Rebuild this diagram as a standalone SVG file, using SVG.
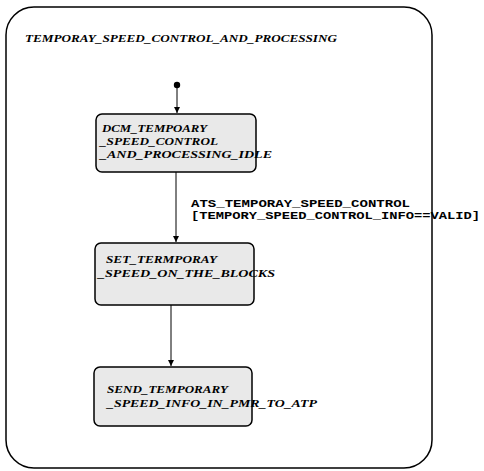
<svg xmlns="http://www.w3.org/2000/svg" width="484" height="471" viewBox="0 0 484 471">
<style>
.st{font-family:"Liberation Serif",serif;font-style:italic;font-weight:bold;font-size:11px;fill:#000}
.box{fill:#e9e9e9;stroke:#000;stroke-width:1.5}
.lbl{font-family:"Liberation Mono",monospace;font-weight:bold;font-size:10.5px;fill:#000}
.edge{stroke:#000;stroke-width:1;fill:none;marker-end:url(#ah)}
</style>
<defs>
<marker id="ah" markerWidth="8" markerHeight="8" refX="6" refY="3" orient="auto" markerUnits="userSpaceOnUse">
<path d="M0,0 L6,3 L0,6 Z" fill="#000"/>
</marker>
</defs>
<rect width="484" height="471" fill="#fff"/>
<g id="container">
<rect x="6" y="7" width="426" height="461" rx="28" ry="28" fill="none" stroke="#000" stroke-width="1.5"/>
<text class="st" x="25" y="42" textLength="312" lengthAdjust="spacingAndGlyphs">TEMPORAY_SPEED_CONTROL_AND_PROCESSING</text>
</g>
<g id="initial">
<circle cx="177" cy="85" r="3.2" fill="#000"/>
</g>
<g id="connectors">
<line class="edge" x1="177" y1="88" x2="177" y2="113"/>
<line class="edge" x1="176" y1="172" x2="176" y2="242"/>
<line class="edge" x1="171" y1="305" x2="171" y2="366"/>
<text class="lbl" x="191" y="207" textLength="219" lengthAdjust="spacingAndGlyphs">ATS_TEMPORAY_SPEED_CONTROL</text>
<text class="lbl" x="191" y="219" textLength="289" lengthAdjust="spacingAndGlyphs">[TEMPORY_SPEED_CONTROL_INFO==VALID]</text>
</g>
<g id="state1">
<rect class="box" x="96" y="114" width="160" height="58" rx="6" ry="6"/>
<text class="st" x="102" y="132" textLength="105" lengthAdjust="spacingAndGlyphs">DCM_TEMPOARY</text>
<text class="st" x="100" y="145" textLength="118" lengthAdjust="spacingAndGlyphs">_SPEED_CONTROL</text>
<text class="st" x="100" y="158" textLength="172" lengthAdjust="spacingAndGlyphs">_AND_PROCESSING_IDLE</text>
</g>
<g id="state2">
<rect class="box" x="95" y="243" width="159" height="62" rx="6" ry="6"/>
<text class="st" x="106" y="263" textLength="111" lengthAdjust="spacingAndGlyphs">SET_TERMPORAY</text>
<text class="st" x="98" y="277" textLength="177" lengthAdjust="spacingAndGlyphs">_SPEED_ON_THE_BLOCKS</text>
</g>
<g id="state3">
<rect class="box" x="94" y="367" width="158" height="59" rx="6" ry="6"/>
<text class="st" x="107" y="393" textLength="121" lengthAdjust="spacingAndGlyphs">SEND_TEMPORARY</text>
<text class="st" x="107" y="407" textLength="210" lengthAdjust="spacingAndGlyphs">_SPEED_INFO_IN_PMR_TO_ATP</text>
</g>
</svg>
